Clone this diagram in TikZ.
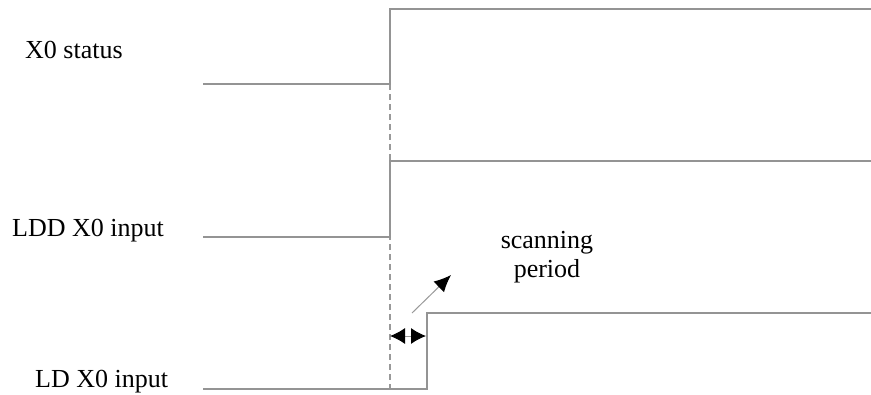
\documentclass[tikz,border=0pt]{standalone}
\usepackage{fontspec}
\setmainfont{Liberation Serif}
\usetikzlibrary{arrows.meta}
\begin{document}
\begin{tikzpicture}[x=1pt,y=-1pt,
  sig/.style={draw=black!42,line width=1.4pt},
  guide/.style={draw=black!40,line width=1.4pt,dash pattern=on 6pt off 4pt},
  lbl/.style={font=\fontsize{26}{29}\selectfont,inner sep=0pt},
  tip/.style={draw=black!40,line width=1pt}]
\useasboundingbox (0,0) rectangle (871,394);
% labels
\node[lbl,anchor=west] (l1) at (25,50) {X0 status};
\node[lbl,anchor=west] (l2) at (12,231) {LDD X0 input};
\node[lbl,anchor=west] (l3) at (35,382) {LD X0 input};
\node[lbl,align=center] (sp) at (547,257) {scanning\\period};
% signal coordinates
\coordinate (a0) at (203,84); \coordinate (a1) at (390,84); \coordinate (a2) at (390,9); \coordinate (a3) at (871,9);
\coordinate (b0) at (203,237); \coordinate (b1) at (390,237); \coordinate (b2) at (390,161); \coordinate (b3) at (871,161);
\coordinate (c0) at (203,389); \coordinate (c1) at (427,389); \coordinate (c2) at (427,313); \coordinate (c3) at (871,313);
\coordinate (d1) at (390,389);
\draw[guide] (a1) -- (d1);
\draw[sig] (a0) -- (a1) -- (a2) -- (a3);
\draw[sig] (b0) -- (b1) -- (b2) -- (b3);
\draw[sig] (c0) -- (c1) -- (c2) -- (c3);
% scanning period arrows
\coordinate (e1) at (390,336); \coordinate (e2) at (426,336);
\draw[tip,{Latex[length=15pt,width=16pt,black]}-{Latex[length=15pt,width=16pt,black]}] (e1) -- (e2);
\coordinate (f1) at (412,313); \coordinate (f2) at (451,275);
\draw[tip,-{Latex[length=17pt,width=15pt,black]}] (f1) -- (f2);
\end{tikzpicture}
\end{document}
